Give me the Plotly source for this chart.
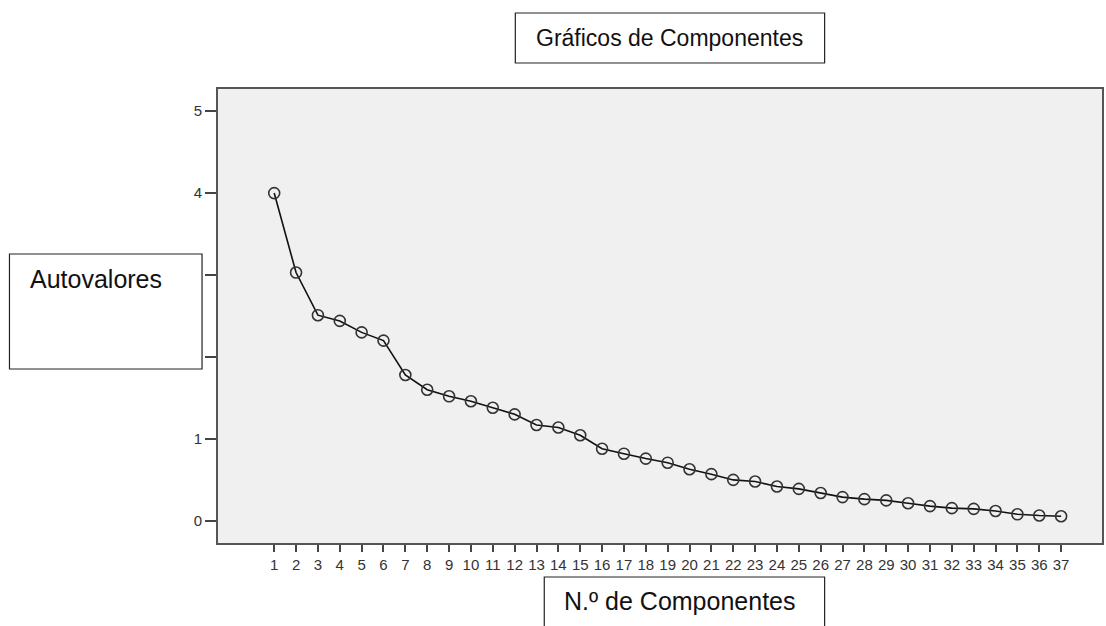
import plotly.graph_objects as go

components = list(range(1, 38))
eigenvalues = [4.00, 3.03, 2.51, 2.44, 2.30, 2.20, 1.78, 1.60, 1.52, 1.46, 1.38, 1.30, 1.17,
               1.14, 1.045, 0.88, 0.82, 0.76, 0.71, 0.63, 0.57, 0.50, 0.48, 0.42,
               0.39, 0.34, 0.29, 0.265, 0.25, 0.215, 0.18, 0.155, 0.146, 0.12, 0.08, 0.065, 0.057]
y_ticks = [0, 1, 2, 3, 4, 5]
title_text = "Gráficos de Componentes"
ylabel_text = "Autovalores"
xlabel_text = "N.º de Componentes"

W, H = 1106, 626
L, R, T, B = 218, 1104, 89, 543

def px(x):
    return (x - L) / (R - L)

def py(y):
    return (B - y) / (B - T)

fig = go.Figure()
fig.add_trace(go.Scatter(
    x=components, y=eigenvalues, mode="lines+markers",
    line=dict(color="#111111", width=1.6),
    marker=dict(symbol="circle-open", size=11, color="#333333", line=dict(width=1.6)),
    showlegend=False, hoverinfo="x+y",
))

FONT = "Liberation Sans, Arial, sans-serif"

fig.update_layout(
    width=W, height=H,
    margin=dict(l=L, r=W - R, t=T, b=H - B, pad=0),
    paper_bgcolor="white", plot_bgcolor="#F0F0F0",
    font=dict(family=FONT, color="#222222"),
    xaxis=dict(range=[-1.571, 38.87], tickmode="array", tickvals=components,
               ticktext=[str(c) for c in components],
               ticks="outside", ticklen=7, tickwidth=2, tickcolor="#444444",
               showgrid=False, zeroline=False, showline=True, linecolor="#555555",
               linewidth=2, mirror=True, tickfont=dict(size=15, color="#333333", family=FONT)),
    yaxis=dict(range=[-0.27, 5.27], tickmode="array", tickvals=y_ticks,
               ticks="outside", ticklen=11, tickwidth=2, tickcolor="#444444",
               showgrid=False, zeroline=False, showline=True, linecolor="#555555",
               linewidth=2, mirror=True, tickfont=dict(size=15, color="#333333", family=FONT)),
)

boxes = [
    (516, 13, 826, 63),
    (9, 254, 202, 369),
    (545, 577, 826, 640),
]
for x0, y0, x1, y1 in boxes:
    fig.add_shape(type="rect", xref="paper", yref="paper",
                  x0=px(x0), x1=px(x1), y0=py(y1), y1=py(y0),
                  line=dict(color="#222222", width=1.2), fillcolor="white", layer="above")

fig.add_annotation(text=title_text, xref="paper", yref="paper", x=px(671), y=py(38),
                   xanchor="center", yanchor="middle", showarrow=False,
                   font=dict(size=23, color="#111111", family=FONT))
fig.add_annotation(text=ylabel_text, xref="paper", yref="paper", x=px(28), y=py(279),
                   xanchor="left", yanchor="middle", showarrow=False,
                   font=dict(size=25, color="#111111", family=FONT))
fig.add_annotation(text=xlabel_text, xref="paper", yref="paper", x=px(681), y=py(601),
                   xanchor="center", yanchor="middle", showarrow=False,
                   font=dict(size=25, color="#111111", family=FONT))

fig.write_html("out.html", config={"displayModeBar": False},
               post_script="document.body.style.margin='0';")
